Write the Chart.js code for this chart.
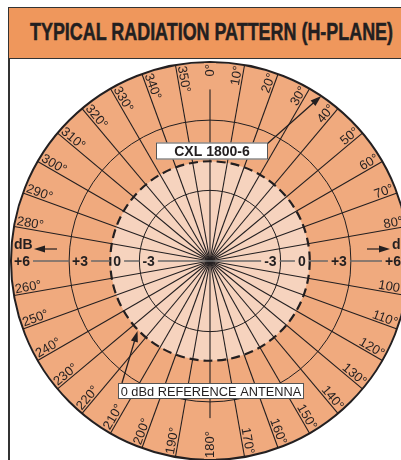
<!DOCTYPE html>
<html>
<head>
<meta charset="utf-8">
<title>Typical Radiation Pattern (H-Plane)</title>
<script src="https://cdn.jsdelivr.net/npm/chart.js@4.4.0/dist/chart.umd.min.js"></script>
<style>
  html, body { margin: 0; padding: 0; background: #fff; overflow: hidden; width: 401px; height: 460px; }
  #titleBar {
    position: absolute; left: 8px; top: 7px; width: 430px; height: 52px;
    box-sizing: border-box; border: 1.6px solid #333; background: #EF975C;
  }
  #titleText {
    position: absolute; left: 30px; top: 20px; white-space: nowrap;
    font: bold 24px/24px "Liberation Sans Narrow", "Arial Narrow", "Liberation Sans", sans-serif;
    color: #231f20; -webkit-text-stroke: 0.5px #231f20; transform-origin: 0 0;
  }
  #frameLeft { position: absolute; left: 8px; top: 58px; width: 1.6px; height: 410px; background: #333; }
  #pattern { position: absolute; left: 10px; top: 61px; }
</style>
</head>
<body>
<div id="titleBar"></div>
<div id="frameLeft"></div>
<span id="titleText">TYPICAL RADIATION PATTERN (H-PLANE)</span>
<canvas id="pattern" width="400" height="400"></canvas>
<script>
// azimuth of every spoke, clockwise from north
const angleLabels = ['0°', '10°', '20°', '30°', '40°', '50°', '60°', '70°', '80°', '90°',
  '100°', '110°', '120°', '130°', '140°', '150°', '160°', '170°', '180°',
  '190°', '200°', '210°', '220°', '230°', '240°', '250°', '260°', '270°',
  '280°', '290°', '300°', '310°', '320°', '330°', '340°', '350°'];

// gain in dBd at each azimuth (omni antenna)
const cxlGainDb = [6, 6, 6, 6, 6, 6, 6, 6, 6, 6, 6, 6, 6, 6, 6, 6, 6, 6,
  6, 6, 6, 6, 6, 6, 6, 6, 6, 6, 6, 6, 6, 6, 6, 6, 6, 6];
const refGainDb = [0, 0, 0, 0, 0, 0, 0, 0, 0, 0, 0, 0, 0, 0, 0, 0, 0, 0,
  0, 0, 0, 0, 0, 0, 0, 0, 0, 0, 0, 0, 0, 0, 0, 0, 0, 0];

// rings of the dB grid and their labels on the horizontal axis
const ringTicksDb = [-3, 0, 3, 6];
const ringTickLabels = ['-3', '0', '+3', '+6'];

const cxlName = 'CXL 1800-6';
const refName = '0 dBd REFERENCE ANTENNA';

const cxlColor = '#F0AA7E';
const refColor = '#F6D3BE';
const ink = '#231f20';

// plot is linear in field strength, so dB -> voltage ratio
function dbToField(db) { return Math.pow(10, db / 20); }

// fit title into its bar
const tt = document.getElementById('titleText');
tt.style.transform = 'scaleX(' + (363 / tt.getBoundingClientRect().width) + ')';

function arrow(ctx, x0, y0, x1, y1) {
  const a = Math.atan2(y1 - y0, x1 - x0);
  const len = 11, half = 3.6;
  ctx.beginPath();
  ctx.moveTo(x0, y0);
  ctx.lineTo(x1 - Math.cos(a) * len * 0.8, y1 - Math.sin(a) * len * 0.8);
  ctx.stroke();
  ctx.beginPath();
  ctx.moveTo(x1, y1);
  ctx.lineTo(x1 - Math.cos(a) * len - Math.sin(a) * half, y1 - Math.sin(a) * len + Math.cos(a) * half);
  ctx.lineTo(x1 - Math.cos(a) * len + Math.sin(a) * half, y1 - Math.sin(a) * len - Math.cos(a) * half);
  ctx.closePath();
  ctx.fill();
}

function labelBox(ctx, text, font, x, y, w, h) {
  ctx.fillStyle = '#fff';
  ctx.strokeStyle = '#555';
  ctx.lineWidth = 1;
  ctx.fillRect(x - w / 2, y - h / 2, w, h);
  ctx.strokeRect(x - w / 2 + 0.5, y - h / 2 + 0.5, w - 1, h - 1);
  ctx.font = font;
  ctx.fillStyle = ink;
  ctx.textAlign = 'center';
  ctx.textBaseline = 'middle';
  ctx.fillText(text, x, y + 1);
}

const patternLabels = {
  id: 'patternLabels',
  afterDraw(chart) {
    const scale = chart.scales.r;
    const ctx = chart.ctx;
    const cx = scale.xCenter, cy = scale.yCenter;
    const rOf = db => scale.getDistanceFromCenterForValue(dbToField(db));
    const R = rOf(6);
    ctx.save();

    // azimuth labels, laid along the spokes just inside the rim
    ctx.font = '13px "Liberation Sans", Arial, sans-serif';
    angleLabels.forEach((label, i) => {
      const deg = i * 10;
      if (deg === 90 || deg === 270) return;
      const a = scale.getIndexAngle(i) - Math.PI / 2;
      const flip = deg >= 180;
      const p = scale.getPointPosition(i, R - 2);
      const w = ctx.measureText(label).width;
      ctx.save();
      ctx.translate(p.x, p.y);
      ctx.rotate(flip ? a + Math.PI : a);
      ctx.textAlign = flip ? 'left' : 'right';
      if (deg === 0 || deg === 180) {
        ctx.fillStyle = cxlColor;
        ctx.fillRect(flip ? -1 : -w - 13, -6, w + 14, 12);
        ctx.textBaseline = 'middle';
        ctx.fillStyle = ink;
        ctx.fillText(label, 0, 0);
      } else {
        ctx.textBaseline = 'alphabetic';
        ctx.fillStyle = ink;
        ctx.fillText(label, 0, -2);
      }
      ctx.restore();
    });

    // dB labels on the horizontal axis
    ctx.font = 'bold 14px "Liberation Sans", Arial, sans-serif';
    ctx.textBaseline = 'middle';
    ctx.fillStyle = ink;
    const gaps = [];
    ringTicksDb.forEach((db, k) => {
      const r = rOf(db);
      const txt = ringTickLabels[k];
      const w = ctx.measureText(txt).width;
      ctx.textAlign = 'left';
      ctx.fillText(txt, cx - r + 3, cy + 1);
      gaps.push([cx - r + 3, cx - r + 3 + w]);
      const xr = db === 6 ? cx + r - 8 : cx + r - 4;
      ctx.textAlign = 'right';
      ctx.fillText(txt, xr, cy + 1);
      gaps.push([xr - w, xr]);
    });
    gaps.sort((a, b) => a[0] - b[0]);
    ctx.strokeStyle = '#6a6a6a';
    ctx.lineWidth = 1.6;
    ctx.beginPath();
    let x = cx - R;
    gaps.forEach(([g0, g1]) => {
      if (g0 - 3 > x) { ctx.moveTo(x, cy); ctx.lineTo(g0 - 3, cy); }
      x = g1 + 3;
    });
    if (cx + R > x) { ctx.moveTo(x, cy); ctx.lineTo(cx + R, cy); }
    ctx.stroke();

    // "dB" with arrows pointing outward
    ctx.strokeStyle = ink;
    ctx.fillStyle = ink;
    ctx.lineWidth = 1.2;
    ctx.textAlign = 'left';
    ctx.fillText('dB', cx - R + 3, cy - 16);
    arrow(ctx, cx - R + 46, cy - 12, cx - R + 23, cy - 12);
    ctx.fillText('dB', cx + R - 17, cy - 16);
    arrow(ctx, cx + R - 42, cy - 12, cx + R - 19, cy - 12);

    // callouts, tips placed on the two patterns at the given azimuths
    const deg = Math.PI / 180;
    const cxlTip = scale.getPointPosition(0, R, 34 * deg);
    const refTip = scale.getPointPosition(0, rOf(0) + 1, 226 * deg);
    ctx.lineWidth = 1.3;
    arrow(ctx, cx + 57, cy - 117, cxlTip.x, cxlTip.y);
    arrow(ctx, cx - 88, cy + 122, refTip.x, refTip.y);
    labelBox(ctx, cxlName, 'bold 14px "Liberation Sans", Arial, sans-serif', cx + 2, cy - 110, 112, 17);
    labelBox(ctx, refName, '12.8px "Liberation Sans", Arial, sans-serif', cx + 1, cy + 130, 186, 16);

    ctx.restore();
  }
};

const ringValues = [0].concat(ringTicksDb.map(dbToField));

new Chart(document.getElementById('pattern'), {
  type: 'radar',
  data: {
    labels: angleLabels,
    datasets: [
      { label: refName, data: refGainDb.map(dbToField), backgroundColor: refColor, fill: true,
        borderWidth: 0, pointRadius: 0 },
      { label: cxlName, data: cxlGainDb.map(dbToField), backgroundColor: cxlColor, fill: true,
        borderWidth: 0, pointRadius: 0 }
    ]
  },
  options: {
    responsive: false,
    animation: false,
    layout: { padding: 1 },
    plugins: { legend: { display: false }, tooltip: { enabled: false } },
    scales: {
      r: {
        min: 0,
        max: dbToField(6),
        startAngle: 0,
        afterBuildTicks: s => { s.ticks = ringValues.map(v => ({ value: v })); },
        ticks: { display: false },
        pointLabels: { display: false },
        grid: {
          z: 1,
          circular: true,
          color: ink,
          lineWidth: c => {
            if (!c.tick) return 1;
            if (c.tick.value > 1.9) return 2;
            if (Math.abs(c.tick.value - 1) < 1e-6) return 2.2;
            return 1;
          }
        },
        border: { dash: c => (c.tick && Math.abs(c.tick.value - 1) < 1e-6) ? [9, 5] : [] },
        angleLines: {
          color: c => (c.index === 9 || c.index === 27) ? 'rgba(0,0,0,0)' : ink,
          lineWidth: 1.1
        }
      }
    }
  },
  plugins: [patternLabels]
});
</script>
</body>
</html>
